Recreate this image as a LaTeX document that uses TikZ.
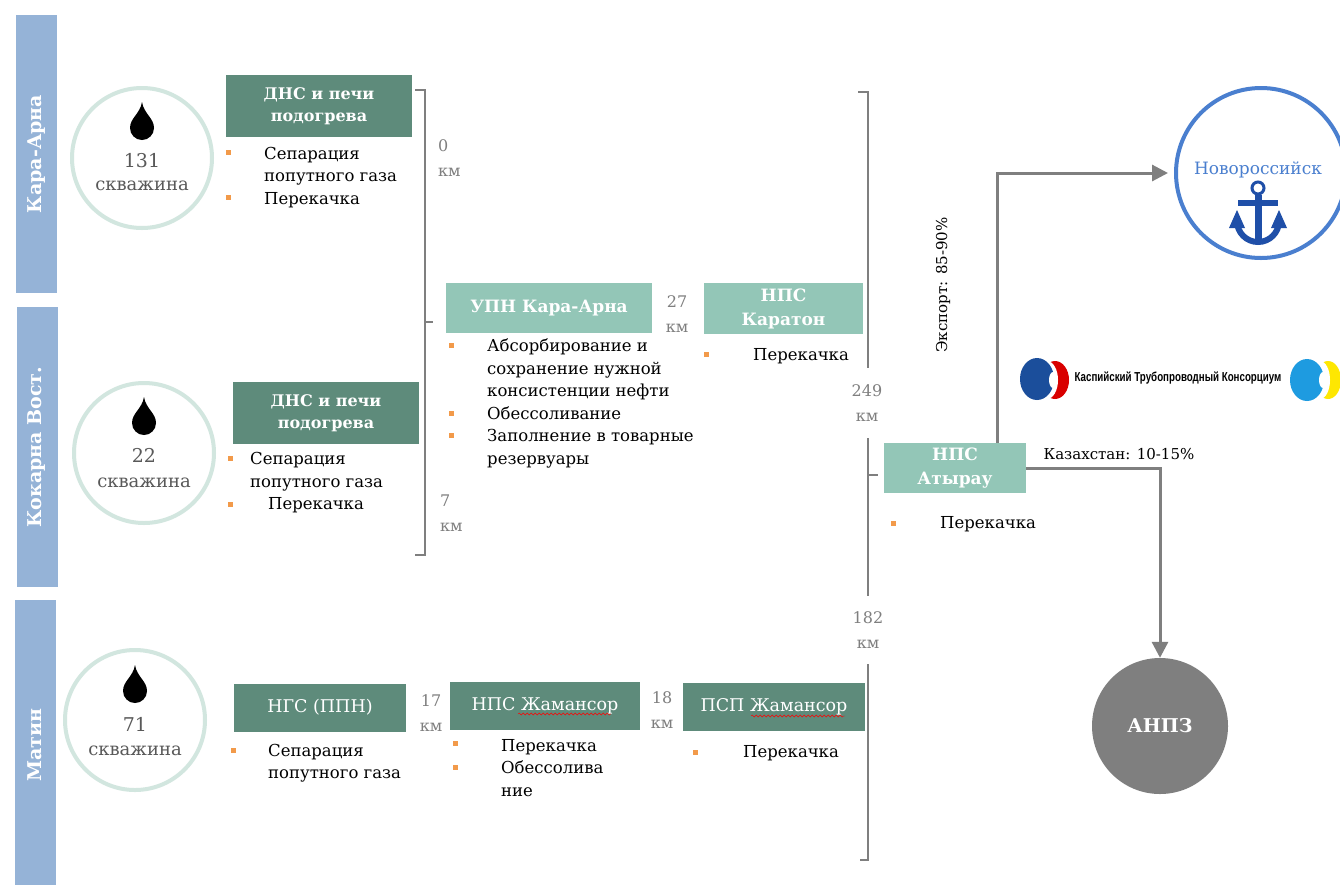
\documentclass[tikz,border=0pt]{standalone}
\usepackage{fontspec}
\setmainfont{DejaVu Serif}
\newfontfamily\logofont{Liberation Sans}
\usetikzlibrary{arrows.meta,decorations.pathmorphing}

\definecolor{bandblue}{HTML}{95B3D7}
\definecolor{boxdark}{HTML}{5E8B7B}
\definecolor{boxlight}{HTML}{93C6B7}
\definecolor{ringgreen}{HTML}{D2E6DF}
\definecolor{bulletorange}{HTML}{F29A4A}
\definecolor{kmgray}{HTML}{7F7F7F}
\definecolor{wellgray}{HTML}{595959}
\definecolor{portblue}{HTML}{4A7FCF}
\definecolor{anchorblue}{HTML}{1F4FA8}
\definecolor{ktkblue}{HTML}{1B4E9B}
\definecolor{ktkcyan}{HTML}{1E9BE0}

\newcommand{\kmlab}[1]{#1\\{\fontsize{16}{25}\selectfont км}}

\begin{document}
\begin{tikzpicture}[x=1pt,y=-1pt,
    band/.style={fill=bandblue, text=white, rotate=90, minimum height=41pt, inner sep=0pt,
      font=\fontsize{19}{22}\selectfont\bfseries},
    well/.style={circle, draw=ringgreen, line width=4pt, minimum size=140pt, inner sep=0pt},
    wellnum/.style={text=wellgray, font=\fontsize{19}{19}\selectfont, inner sep=0pt},
    wellword/.style={text=wellgray, font=\fontsize{18}{18}\selectfont, inner sep=0pt},
    darkbox/.style={fill=boxdark, text=white, align=center, inner sep=0pt,
      font=\fontsize{16}{22}\selectfont\bfseries},
    lightbox/.style={darkbox, fill=boxlight, font=\fontsize{17}{24}\selectfont\bfseries},
    matinbox/.style={darkbox, font=\fontsize{17.5}{20}\selectfont},
    dot/.style={fill=bulletorange, minimum size=5pt, inner sep=0pt},
    txt/.style={anchor=west, align=left, inner sep=0pt, font=\fontsize{16.5}{22.5}\selectfont},
    km/.style={text=kmgray, align=center, inner sep=0pt, font=\fontsize{16}{25}\selectfont},
    brace/.style={draw=kmgray, line width=1.5pt},
    flow/.style={draw=kmgray, line width=3pt, -{Triangle[length=16pt,width=16pt]}},
    oildrop/.pic={\fill (0,-20) .. controls (2,-8) and (12,-4) .. (12,6)
      arc[start angle=0,end angle=180,radius=12] .. controls (-12,-4) and (-2,-8) .. cycle;}
  ]
  \useasboundingbox[fill=white] (0,0) rectangle (1340,884);

  % Fields
  \node[band, minimum width=278pt] (karaarna) at (36.5,154) {Кара-Арна};
  \node[band, minimum width=280pt] (kokarna) at (37,447) {Кокарна Вост.};
  \node[band, minimum width=290pt] (matin) at (35,745) {Матин};

  % Wells
  \node[well] (well1) at (142,158) {};
  \pic at (142,122) {oildrop};
  \node[wellnum] (num1) at (142,161) {131};
  \node[wellword] (word1) at (142,186) {скважина};
  \node[well] (well2) at (144,453) {};
  \pic at (144,417) {oildrop};
  \node[wellnum] (num2) at (144,455) {22};
  \node[wellword] (word2) at (144,483) {скважина};
  \node[well] (well3) at (135,720) {};
  \pic at (135,685) {oildrop};
  \node[wellnum] (num3) at (135,724) {71};
  \node[wellword] (word3) at (135,751) {скважина};

  % Stations
  \node[darkbox, minimum width=186pt, minimum height=62pt] (dns1) at (319,106) {ДНС и печи\\подогрева};
  \node[darkbox, minimum width=186pt, minimum height=62pt] (dns2) at (326,413) {ДНС и печи\\подогрева};
  \node[lightbox, minimum width=206pt, minimum height=50pt] (upn) at (549,308) {УПН Кара-Арна};
  \node[lightbox, minimum width=159pt, minimum height=51pt] (karaton) at (783.5,308.5) {НПС\\Каратон};
  \node[lightbox, minimum width=142pt, minimum height=50pt] (atyrau) at (955,468) {НПС\\Атырау};
  \node[matinbox, minimum width=172pt, minimum height=48pt] (ngs) at (320,707.5) {НГС (ППН)};
  \node[matinbox, minimum width=190pt, minimum height=48pt] (npsz) at (545,706) {НПС Жамансор};
  \node[matinbox, minimum width=182pt, minimum height=48pt] (psp) at (774,707) {ПСП Жамансор};
  \draw[red, decorate, decoration={snake, amplitude=1pt, segment length=4pt}] (518,714) -- (611,714);
  \draw[red, decorate, decoration={snake, amplitude=1pt, segment length=4pt}] (751,716) -- (845,716);

  % Bullet lists
  \node[dot] (d1) at (228,152) {};
  \node[dot] (d2) at (228,197) {};
  \node[txt] (list1) at (264,177.5) {Сепарация\\попутного газа\\Перекачка};
  \node[dot] (d3) at (230,458) {};
  \node[dot] (d4) at (230,504) {};
  \node[txt] (list2) at (250,483) {Сепарация\\попутного газа\\\hspace*{18pt}Перекачка};
  \node[dot] (d5) at (451,345) {};
  \node[dot] (d6) at (451,413) {};
  \node[dot] (d7) at (451,435) {};
  \node[txt] (list3) at (487,403.5) {Абсорбирование и\\сохранение нужной\\консистенции нефти\\Обессоливание\\Заполнение в товарные\\резервуары};
  \node[dot] (d8) at (706,354) {};
  \node[txt] (list4) at (753,356) {Перекачка};
  \node[dot] (d9) at (893,523) {};
  \node[txt] (list5) at (940,524) {Перекачка};
  \node[dot] (d10) at (233,750) {};
  \node[txt] (list6) at (268,763) {Сепарация\\попутного газа};
  \node[dot] (d11) at (455,743) {};
  \node[dot] (d12) at (455,767) {};
  \node[txt] (list7) at (501,768) {Перекачка\\Обессолива\\ние};
  \node[dot] (d13) at (695,752) {};
  \node[txt] (list8) at (743,753) {Перекачка};

  % Distances
  \draw[brace] (415,90) -- (425,90) -- (425,555) -- (415,555);
  \draw[brace] (425,322) -- (433,322);
  \draw[brace] (858,92) -- (868,92) -- (868,368);
  \draw[brace] (868,438) -- (868,596);
  \draw[brace] (868,475) -- (878,475);
  \draw[brace] (868,664) -- (868,860) -- (860,860);
  \node[km, anchor=west, align=left] (km0) at (438,158) {\kmlab{0}};
  \node[km, anchor=west, align=left] (km7) at (440,513) {\kmlab{7}};
  \node[km] (km27) at (677,314) {\kmlab{27}};
  \node[km] (km249) at (867,403) {\kmlab{249}};
  \node[km] (km182) at (868,630) {\kmlab{182}};
  \node[km] (km17) at (431,713) {\kmlab{17}};
  \node[km] (km18) at (662,710) {\kmlab{18}};

  % Destinations
  \node[circle, draw=portblue, line width=4pt, minimum size=170pt] (novo) at (1261,173) {};
  \node[text=portblue, font=\fontsize{17}{17}\selectfont] (novolab) at (1258,170) {Новороссийск};
  \draw[anchorblue, line width=3pt] (1258,188) circle (6);
  \draw[anchorblue, line width=7pt] (1258,195) -- (1258,244);
  \draw[anchorblue, line width=6pt] (1238,203) -- (1278,203);
  \draw[anchorblue, line width=6pt] (1237,221) arc[start angle=180,end angle=0,radius=21];
  \fill[anchorblue] (1229,228) -- (1237,210) -- (1245,228) -- cycle;
  \fill[anchorblue] (1271,228) -- (1279,210) -- (1287,228) -- cycle;
  \node[circle, fill=kmgray, minimum size=136pt, text=white, font=\fontsize{19}{19}\selectfont\bfseries] (anpz) at (1160,726) {АНПЗ};

  % KTK logo
  \fill[red!85!black] (1055,380) ellipse (14 and 19);
  \fill[white] (1047,380) ellipse (11 and 19);
  \fill[ktkblue] (1037,379) ellipse (17 and 21);
  \fill[white] (1053,380) ellipse (4 and 8);
  \node[font=\logofont\bfseries\fontsize{13}{13}\selectfont, xscale=0.75] (ktk) at (1178,378) {Каспийский Трубопроводный Консорциум};
  \fill[yellow!90!orange] (1328,380) ellipse (13 and 19);
  \fill[white] (1320,380) ellipse (10 and 19);
  \fill[ktkcyan] (1307,380) ellipse (17 and 21);
  \fill[white] (1323,380) ellipse (4 and 8);

  % Flows
  \draw[flow, shorten >=6pt] ([xshift=42pt]atyrau.north) |- (novo.west);
  \draw[flow] (atyrau.east) -| (anpz.north);
  \node[rotate=90, font=\fontsize{15}{15}\selectfont] (export) at (943,285) {Экспорт: 85-90\%};
  \node[font=\fontsize{15}{15}\selectfont] (kz) at (1119,454) {Казахстан: 10-15\%};
\end{tikzpicture}
\end{document}
